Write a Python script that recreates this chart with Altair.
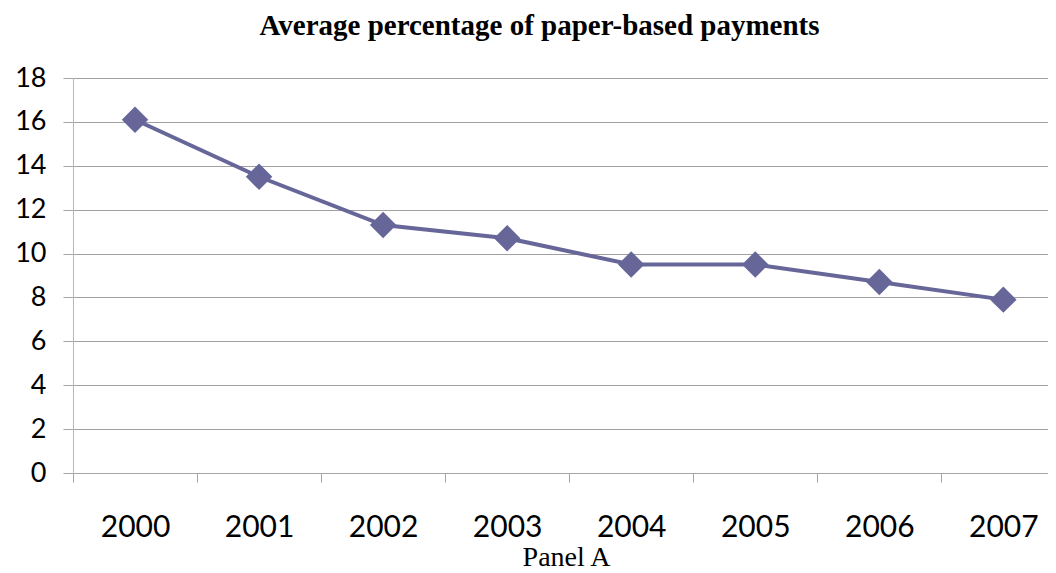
import altair as alt
import pandas as pd

years = [2000, 2001, 2002, 2003, 2004, 2005, 2006, 2007]
values = [16.1, 13.5, 11.3, 10.7, 9.5, 9.5, 8.7, 7.9]
y_ticks = [0, 2, 4, 6, 8, 10, 12, 14, 16, 18]

df = pd.DataFrame({"year": years, "value": values})

W = 975
H = 395
step = W / (2007.36 - 1999.5)

x_enc = alt.X(
    "year:Q",
    scale=alt.Scale(domain=[1999.5, 2007.36], nice=False, zero=False),
    axis=alt.Axis(
        values=years, format="d", grid=False,
        tickOffset=-step / 2, labelOffset=step / 2,
        tickSize=9, tickColor="#a6a6a6", domainColor="#a6a6a6",
        labelFont="Lato", labelFontSize=30, labelColor="black", labelPadding=30,
        title="Panel A", titleFont="Liberation Serif", titleFontWeight="normal",
        titleFontSize=28, titleColor="black",
        titleX=493, titleY=92, titleBaseline="alphabetic", titleAlign="center",
    ),
)
y_enc = alt.Y(
    "value:Q",
    scale=alt.Scale(domain=[0, 18], nice=False),
    axis=alt.Axis(
        values=y_ticks, title=None, grid=True, gridColor="#a0a0a0", gridWidth=1,
        tickSize=10, tickColor="#a6a6a6", domainColor="#b8b8b8",
        labelFont="Lato", labelFontSize=27, labelColor="black", labelPadding=17,
    ),
)

base = alt.Chart(df).encode(x=x_enc, y=y_enc)
line = base.mark_line(color="#666699", strokeWidth=4)
pts = base.mark_point(shape="diamond", filled=True, size=700, color="#666699", opacity=1)

chart = (line + pts).properties(
    width=W, height=H,
    title=alt.TitleParams(
        "Average percentage of paper-based payments",
        font="Liberation Serif", fontSize=29, fontWeight="bold", color="black",
        anchor="middle", offset=23, dx=-21,
    ),
    autosize=alt.AutoSizeParams(type="none"),
    padding={"left": 65, "top": 70, "right": 0, "bottom": 100},
).configure_view(stroke=None)

chart.save("out.html", embed_options={"renderer": "svg", "actions": False})
